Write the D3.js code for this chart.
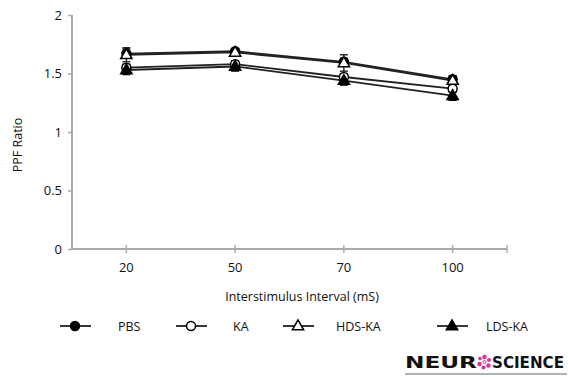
<!DOCTYPE html>
<html>
<head>
<meta charset="utf-8">
<script src="https://cdn.jsdelivr.net/npm/d3@7"></script>
<style>
  body { margin: 0; background: #fff; }
  text { font-family: "Open Sans", "DejaVu Sans", sans-serif; fill: #111; }
</style>
</head>
<body>
<div id="chart"></div>
<script>
// ------------------------ data ------------------------------
var intervals = ["20", "50", "70", "100"];
var yTicks = [0, 0.5, 1, 1.5, 2];
var seriesNames = ["PBS", "KA", "HDS-KA", "LDS-KA"];
var pbsValues   = [1.67, 1.69, 1.60, 1.45];
var kaValues    = [1.55, 1.58, 1.47, 1.37];
var hdsValues   = [1.66, 1.68, 1.59, 1.44];
var ldsValues   = [1.53, 1.56, 1.44, 1.31];
var pbsErr = [0.04, 0.02, 0.03, 0.03];
var kaErr  = [0.03, 0.03, 0.03, 0.03];
var hdsErr = [0.06, 0.03, 0.07, 0.04];
var ldsErr = [0.04, 0.04, 0.04, 0.04];

var series = [
	{ name: seriesNames[0], values: pbsValues, err: pbsErr, shape: "circle",   filled: true },
	{ name: seriesNames[1], values: kaValues,  err: kaErr,  shape: "circle",   filled: false },
	{ name: seriesNames[2], values: hdsValues, err: hdsErr, shape: "triangle", filled: false },
	{ name: seriesNames[3], values: ldsValues, err: ldsErr, shape: "triangle", filled: true }
];

// ------------------------ chart ------------------------------
var svgWidth = 568, svgHeight = 377;
var margin = { top: 15, right: 61, bottom: 128, left: 72 },
	width = svgWidth - margin.left - margin.right,
	height = svgHeight - margin.top - margin.bottom;

var svg = d3.select("#chart").append("svg")
		.attr("width", svgWidth)
		.attr("height", svgHeight)
		.attr("viewBox", "0 0 " + svgWidth + " " + svgHeight);

var g = svg.append("g")
		.attr("transform", "translate(" + margin.left + "," + margin.top + ")");

var x = d3.scaleBand().domain(intervals).range([0, width]).padding(0);
var y = d3.scaleLinear().domain([0, 2]).range([height, 0]);
var cx = function(i) { return x(intervals[i]) + x.bandwidth() / 2; };

// y axis
var axisY = g.append("g")
		.call(d3.axisLeft(y).tickValues(yTicks).tickSize(4).tickPadding(6).tickFormat(d3.format("")));
axisY.select(".domain").attr("stroke", "#aaa").attr("stroke-width", 2).attr("d", "M0," + height + "V0");
axisY.selectAll(".tick line").attr("stroke", "#aaa").attr("stroke-width", 1.5);
axisY.selectAll(".tick text").style("font-size", "13px");

// x axis: ticks at category centres plus one at the far end
var axisX = g.append("g")
		.attr("transform", "translate(0," + height + ")")
		.call(d3.axisBottom(x).tickSize(0).tickPadding(14));
axisX.select(".domain").attr("stroke", "#aaa").attr("stroke-width", 2).attr("d", "M0,0H" + width);
axisX.selectAll(".tick text").style("font-size", "13px");
g.append("g").selectAll("line")
	.data(intervals.map(function(d, i) { return cx(i); }).concat([width]))
	.enter().append("line")
		.attr("x1", function(d) { return d; }).attr("x2", function(d) { return d; })
		.attr("y1", height - 4).attr("y2", height + 4)
		.attr("stroke", "#aaa").attr("stroke-width", 1.5);

// axis titles
svg.append("text")
	.attr("x", 302).attr("y", 301)
	.attr("text-anchor", "middle")
	.style("font-size", "12.5px")
	.text("Interstimulus Interval (mS)");
svg.append("text")
	.attr("transform", "translate(22," + 145 + ") rotate(-90)")
	.attr("text-anchor", "middle")
	.style("font-size", "12.5px")
	.text("PPF Ratio");

// markers
var triangle = d3.symbol().type(d3.symbolTriangle).size(55);
var drawMarker = function(sel, s, px, py) {
	if (s.shape === "circle") {
		sel.append("circle")
			.attr("cx", px).attr("cy", py).attr("r", 4.5)
			.attr("fill", s.filled ? "#000" : "#fff")
			.attr("stroke", "#000").attr("stroke-width", 1.5);
	} else {
		sel.append("path")
			.attr("d", triangle())
			.attr("transform", "translate(" + px + "," + (py + 0.5) + ")")
			.attr("fill", s.filled ? "#000" : "#fff")
			.attr("stroke", "#000").attr("stroke-width", 1.5);
	}
};

var line = d3.line()
		.x(function(d, i) { return cx(i); })
		.y(function(d) { return y(d); });

var plot = g.append("g");

series.forEach(function(s) {
	plot.append("path")
		.attr("d", line(s.values))
		.attr("fill", "none")
		.attr("stroke", "#222").attr("stroke-width", 1.8);
});

series.forEach(function(s) {
	var eg = plot.append("g");
	s.values.forEach(function(v, i) {
		var px = cx(i);
		eg.append("line")
			.attr("x1", px).attr("x2", px)
			.attr("y1", y(v + s.err[i])).attr("y2", y(v - s.err[i]))
			.attr("stroke", "#000").attr("stroke-width", 1.2);
		[v + s.err[i], v - s.err[i]].forEach(function(e) {
			eg.append("line")
				.attr("x1", px - 4).attr("x2", px + 4)
				.attr("y1", y(e)).attr("y2", y(e))
				.attr("stroke", "#000").attr("stroke-width", 1.2);
		});
	});
});

series.forEach(function(s) {
	var mg = plot.append("g");
	s.values.forEach(function(v, i) { drawMarker(mg, s, cx(i), y(v)); });
});

// legend
var legendX = d3.scaleOrdinal().domain(seriesNames).range([75, 191, 298, 452]);
var legendTextX = d3.scaleOrdinal().domain(seriesNames).range([118, 233, 336, 486]);
var legendY = 326;
var legend = svg.append("g");
series.forEach(function(s) {
	var lx = legendX(s.name);
	legend.append("line")
		.attr("x1", lx - 15).attr("x2", lx + 16)
		.attr("y1", legendY).attr("y2", legendY)
		.attr("stroke", "#222").attr("stroke-width", 1.8);
	drawMarker(legend, s, lx, legendY);
	legend.append("text")
		.attr("x", legendTextX(s.name)).attr("y", legendY + 4.5)
		.style("font-size", "12.5px")
		.text(s.name);
});

// journal logo
var logo = svg.append("g");
logo.append("text")
	.attr("x", 405).attr("y", 368)
	.style("font-family", "'DejaVu Sans', sans-serif")
	.style("font-weight", "bold")
	.style("font-size", "16px")
	.attr("textLength", 72).attr("lengthAdjust", "spacingAndGlyphs")
	.text("NEUR");
logo.append("text")
	.attr("x", 492).attr("y", 368)
	.style("font-family", "'DejaVu Sans', sans-serif")
	.style("font-weight", "bold")
	.style("font-size", "16px")
	.attr("textLength", 72).attr("lengthAdjust", "spacingAndGlyphs")
	.text("SCIENCE");
var dots = [[0, -5, 2.2], [4.5, -2, 2], [4, 3.5, 2.2], [-1, 5.5, 2], [-5, 2, 2.2], [-4.5, -3.5, 1.8], [0, 0, 1.5]];
logo.selectAll(".dot").data(dots).enter().append("circle")
	.attr("cx", function(d) { return 484.5 + d[0]; })
	.attr("cy", function(d) { return 362 + d[1]; })
	.attr("r", function(d) { return d[2]; })
	.attr("fill", function(d, i) { return i === 6 ? "#fff" : "#e0309a"; })
	.attr("stroke", "#e0309a").attr("stroke-width", function(d, i) { return i === 6 ? 1 : 0; });
logo.append("line")
	.attr("x1", 405).attr("x2", 567).attr("y1", 374).attr("y2", 374)
	.attr("stroke", "#999").attr("stroke-width", 1.5);
</script>
</body>
</html>
